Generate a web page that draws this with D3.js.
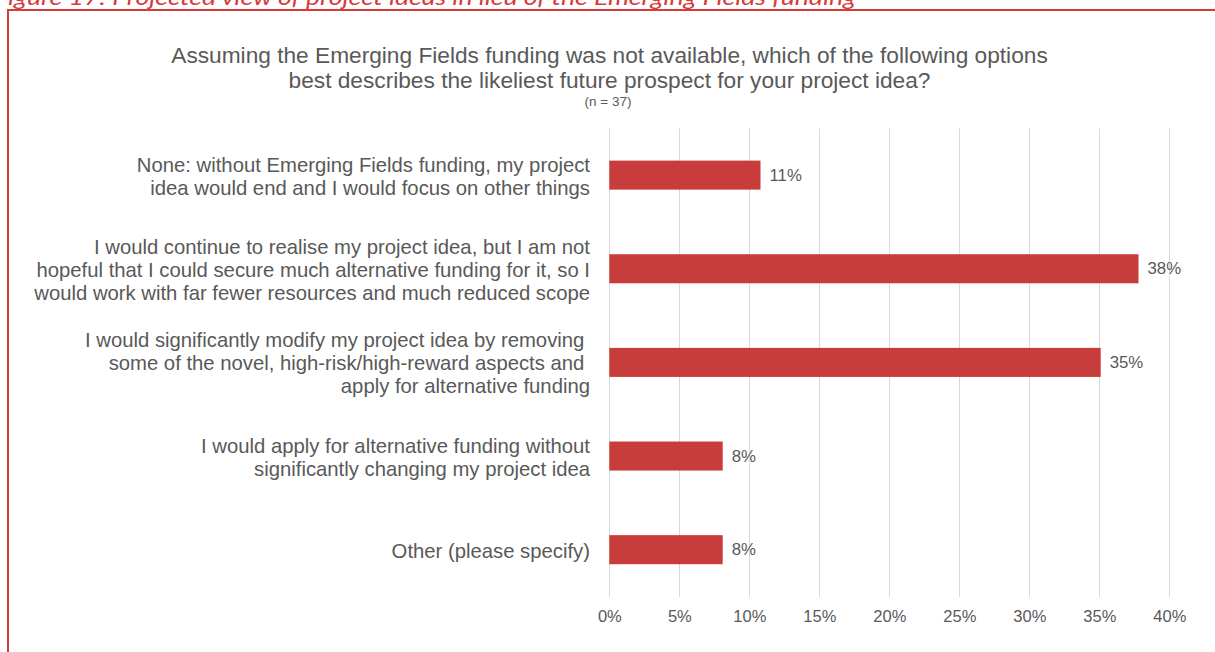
<!DOCTYPE html>
<html>
<head>
<meta charset="utf-8">
<script src="https://cdn.jsdelivr.net/npm/d3@7"></script>
<style>
  html, body { margin: 0; padding: 0; background: #fff; overflow: hidden; }
  svg { display: block; }
  text { font-family: "Liberation Sans", Arial, sans-serif; fill: #595959; }
</style>
</head>
<body>
<svg id="chart" width="1215" height="652"></svg>
<script>
// Survey answer options (each entry is one label, split into its display lines)
const categories = [
  ["None: without Emerging Fields funding, my project", "idea would end and I would focus on other things"],
  ["I would continue to realise my project idea, but I am not", "hopeful that I could secure much alternative funding for it, so I", "would work with far fewer resources and much reduced scope"],
  ["I would significantly modify my project idea by removing ", "some of the novel, high-risk/high-reward aspects and ", "apply for alternative funding"],
  ["I would apply for alternative funding without", "significantly changing my project idea"],
  ["Other (please specify)"]
];
// Share of respondents (n = 37) choosing each option
const shares = [0.108, 0.378, 0.351, 0.081, 0.081];
// Horizontal axis ticks
const tickValues = [0, 0.05, 0.10, 0.15, 0.20, 0.25, 0.30, 0.35, 0.40];

const caption = "Figure 17: Projected view of project ideas in lieu of the Emerging Fields funding";
const titleLines = [
  "Assuming the Emerging Fields funding was not available, which of the following options",
  "best describes the likeliest future prospect for your project idea?"
];
const subtitle = "(n = 37)";

const svg = d3.select("#chart");
const red = "#d63c3c";
const barColor = "#c83c3c";

// Figure caption, partly above the top edge of the page
svg.append("text")
  .attr("x", -6).attr("y", 5)
  .attr("textLength", 862).attr("lengthAdjust", "spacingAndGlyphs")
  .style("font-family", "Lato, 'Open Sans', sans-serif")
  .style("font-style", "italic")
  .style("font-size", "21px")
  .style("fill", red)
  .text(caption);

// Frame around the chart
svg.append("path")
  .attr("d", "M8,660 L8,10 L1220,10")
  .attr("fill", "none")
  .attr("stroke", red)
  .attr("stroke-width", 2);

// Title
const cx = 609.5;
svg.append("g").selectAll("text")
  .data(titleLines).join("text")
  .attr("x", cx).attr("y", (d, i) => 55 + i * 25)
  .attr("text-anchor", "middle").attr("dominant-baseline", "central")
  .style("font-size", "22.7px")
  .text(d => d);
svg.append("text")
  .attr("x", 608).attr("y", 101)
  .attr("text-anchor", "middle").attr("dominant-baseline", "central")
  .style("font-size", "13.5px")
  .text(subtitle);

// Scales
const x = d3.scaleLinear().domain([0, 0.4]).range([609.3, 1169.3]);
const y = d3.scaleBand().domain(d3.range(categories.length)).range([128.3, 596.5]);
const barH = y.bandwidth() * 0.31;

// Vertical gridlines
svg.append("g").selectAll("line")
  .data(tickValues).join("line")
  .attr("x1", d => Math.round(x(d)) + 0.5).attr("x2", d => Math.round(x(d)) + 0.5)
  .attr("y1", 128.3).attr("y2", 597)
  .attr("stroke", "#d9d9d9").attr("stroke-width", 1);

// Bottom axis labels
const xAxis = d3.axisBottom(x).tickValues(tickValues).tickFormat(d3.format(".0%")).tickSize(0).tickPadding(0);
const axisG = svg.append("g").attr("transform", "translate(0,616)").call(xAxis);
axisG.select(".domain").remove();
axisG.selectAll("text")
  .attr("y", 0).attr("dy", "0.35em")
  .style("font-family", "'Liberation Sans', Arial, sans-serif")
  .style("font-size", "16.5px")
  .style("fill", "#595959");

// Bars
svg.append("g").selectAll("rect")
  .data(shares).join("rect")
  .attr("x", x(0))
  .attr("y", (d, i) => y(i) + y.bandwidth() / 2 - barH / 2)
  .attr("width", d => x(d) - x(0))
  .attr("height", barH)
  .attr("fill", barColor);

// Value labels
svg.append("g").selectAll("text")
  .data(shares).join("text")
  .attr("x", d => x(d) + 9)
  .attr("y", (d, i) => y(i) + y.bandwidth() / 2)
  .attr("dominant-baseline", "central")
  .style("font-size", "16.8px")
  .text(d => d3.format(".0%")(d));

// Category labels, right aligned next to the bars
const lineH = 23;
const catG = svg.append("g");
categories.forEach((lines, i) => {
  const mid = y(i) + y.bandwidth() / 2 + 1;
  const t = catG.append("text")
    .attr("text-anchor", "end")
    .style("font-size", "20.3px")
    .style("white-space", "pre");
  lines.forEach((ln, j) => {
    t.append("tspan")
      .attr("x", 590)
      .attr("y", mid + (j - (lines.length - 1) / 2) * lineH)
      .attr("dominant-baseline", "central")
      .text(ln);
  });
});
</script>
</body>
</html>
